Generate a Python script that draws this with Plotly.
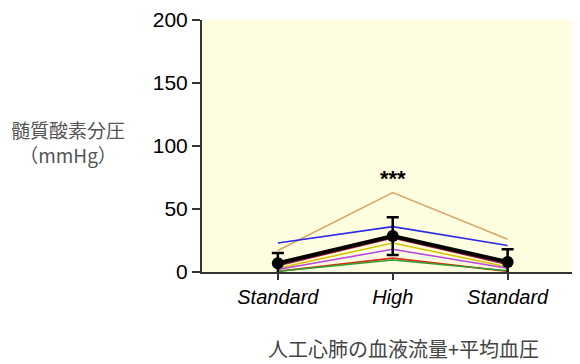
import plotly.graph_objects as go

categories = ["Standard", "High", "Standard"]
x_pos = [0, 1, 2]

subjects = {
    "tan":    [17, 63, 26],
    "blue":   [23, 36, 21],
    "pink":   [6, 28, 7],
    "maroon": [5, 27, 6],
    "yellow": [3, 23, 4],
    "purple": [2, 18, 3],
    "red":    [0.5, 11, 0.5],
    "green":  [0.5, 9.5, 1],
}
colors = {
    "tan": "#D4A868", "blue": "#2A2AE8", "pink": "#E8409A", "maroon": "#A01840",
    "yellow": "#D4C400", "purple": "#B848E0", "red": "#E02818", "green": "#30A030",
}
mean_vals = [7, 28.5, 8]
sd_vals = [8, 15, 10]
y_ticks = [0, 50, 100, 150, 200]

fig = go.Figure()
for name, vals in subjects.items():
    fig.add_trace(go.Scatter(x=x_pos, y=vals, mode="lines",
                             line=dict(color=colors[name], width=1.6), showlegend=False))
fig.add_trace(go.Scatter(x=x_pos, y=mean_vals, mode="lines+markers",
                         line=dict(color="black", width=4),
                         marker=dict(color="black", size=12),
                         error_y=dict(type="data", array=sd_vals, color="black",
                                      thickness=2.5, width=6),
                         showlegend=False))

fig.add_annotation(x=1, y=74, text="<b>***</b>", showarrow=False,
                   font=dict(size=22, color="black", family="Arial"))
fig.add_annotation(xref="paper", yref="paper", x=-0.354, y=0.516, xanchor="center",
                   yanchor="middle",
                   text="髄質酸素分圧<br>（mmHg）", showarrow=False, align="center",
                   font=dict(size=19, color="#555555", family="Noto Sans CJK JP"))
fig.add_annotation(xref="paper", yref="paper", x=0.534, y=-0.305, xanchor="center",
                   yanchor="middle",
                   text="人工心肺の血液流量+平均血圧", showarrow=False,
                   font=dict(size=20, color="#444444", family="Noto Sans CJK JP"))

fig.update_layout(
    width=572, height=356,
    margin=dict(l=194, r=0, t=8, b=92),
    paper_bgcolor="white", plot_bgcolor="#FFFDE0",
    xaxis=dict(range=[-0.66, 2.63], tickvals=x_pos,
               ticktext=["<i>" + c + "</i>" for c in categories],
               showline=True, linecolor="#333333", linewidth=2,
               ticks="outside", ticklen=6, tickwidth=1.5, tickcolor="#333333",
               showgrid=False, zeroline=False,
               tickfont=dict(size=20, color="black", family="Arial")),
    yaxis=dict(range=[0, 200], tickvals=y_ticks, ticklabeloverflow="allow",
               showline=True, linecolor="#333333", linewidth=2,
               ticks="outside", ticklen=8, tickwidth=2, tickcolor="#333333",
               showgrid=False, zeroline=False,
               tickfont=dict(size=21, color="black", family="Arial")),
)
fig.write_html("out.html")
